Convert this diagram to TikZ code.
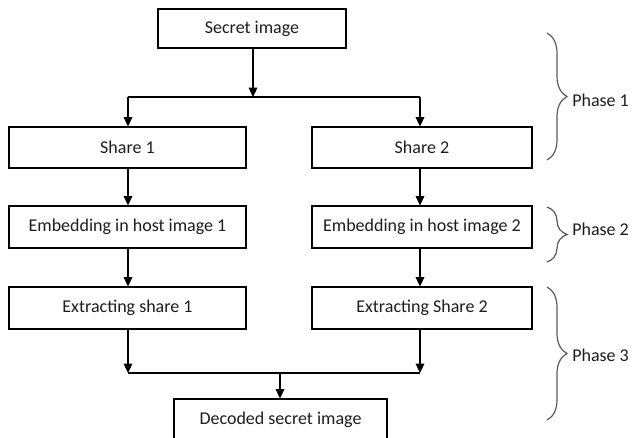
\documentclass[tikz,border=0pt]{standalone}
\usepackage{fontspec}
\setmainfont{Carlito}
\usetikzlibrary{arrows.meta,decorations.pathreplacing}
\definecolor{inkc}{HTML}{1C1C24}
\definecolor{bracec}{HTML}{5A5A5A}
\begin{document}
\begin{tikzpicture}[x=0.75pt,y=-0.75pt,
  stepbox/.style={draw=black,line width=0.8pt,inner sep=0pt,text=inkc,
    font=\fontsize{13.5}{16}\selectfont},
  flow/.style={line width=0.8pt,-{Triangle[length=7pt,width=6.5pt]}},
  bar/.style={line width=0.8pt},
  phasebrace/.style={draw=bracec,line width=0.9pt,
    decorate,decoration={brace,amplitude=15pt}},
  phaselabel/.style={anchor=west,text=inkc,inner sep=0pt,
    font=\fontsize{13.5}{16}\selectfont}]
\useasboundingbox (0,0) rectangle (632,437);

% process boxes
\node[stepbox,minimum width=141pt,minimum height=29.25pt] (secret) at (252,28.5) {Secret image};
\node[stepbox,minimum width=177.75pt,minimum height=30.75pt] (share1) at (127.5,147.5) {Share 1};
\node[stepbox,minimum width=165pt,minimum height=30.75pt] (share2) at (422,147.5) {Share 2};
\node[stepbox,minimum width=177.75pt,minimum height=31.5pt] (emb1) at (127.5,227) {Embedding in host image 1};
\node[stepbox,minimum width=165pt,minimum height=31.5pt] (emb2) at (422,227) {Embedding in host image 2};
\node[stepbox,minimum width=177.75pt,minimum height=31.5pt] (ext1) at (127.5,308) {Extracting share 1};
\node[stepbox,minimum width=165pt,minimum height=31.5pt] (ext2) at (422,308) {Extracting Share 2};
% the last box runs past the lower edge of the page
\node[stepbox,minimum width=159.75pt,minimum height=31.5pt] (decoded) at (280.5,420) {Decoded secret image};

% split and merge points
\coordinate (splitM) at (253,97);
\coordinate (splitL) at (128,97);
\coordinate (splitR) at (420,97);
\coordinate (joinM) at (280,373);
\coordinate (joinL) at (128,373);
\coordinate (joinR) at (420,373);

% split into two shares
\draw[flow] (secret.south -| splitM) -- (splitM);
\draw[bar] (splitL) -- (splitR);
\draw[flow] (splitL) -- (share1.north -| splitL);
\draw[flow] (splitR) -- (share2.north -| splitR);

% per-share pipelines
\draw[flow] (share1.south -| splitL) -- (emb1.north -| splitL);
\draw[flow] (share2.south -| splitR) -- (emb2.north -| splitR);
\draw[flow] (emb1.south -| splitL) -- (ext1.north -| splitL);
\draw[flow] (emb2.south -| splitR) -- (ext2.north -| splitR);

% merge into decoded image
\draw[flow] (ext1.south -| joinL) -- (joinL);
\draw[flow] (ext2.south -| joinR) -- (joinR);
\draw[bar] (joinL) -- (joinR);
\draw[flow] (joinM) -- (decoded.north -| joinM);

% phase braces
\coordinate (p1a) at (547,33);
\coordinate (p1b) at (547,160);
\coordinate (p2a) at (547,207);
\coordinate (p2b) at (547,262);
\coordinate (p3a) at (547,287);
\coordinate (p3b) at (547,420);
\draw[phasebrace] (p1a) -- (p1b);
\draw[phasebrace] (p2a) -- (p2b);
\draw[phasebrace] (p3a) -- (p3b);
\node[phaselabel] (ph1) at (572,100) {Phase 1};
\node[phaselabel] (ph2) at (572,229) {Phase 2};
\node[phaselabel] (ph3) at (572,355) {Phase 3};
\end{tikzpicture}
\end{document}
